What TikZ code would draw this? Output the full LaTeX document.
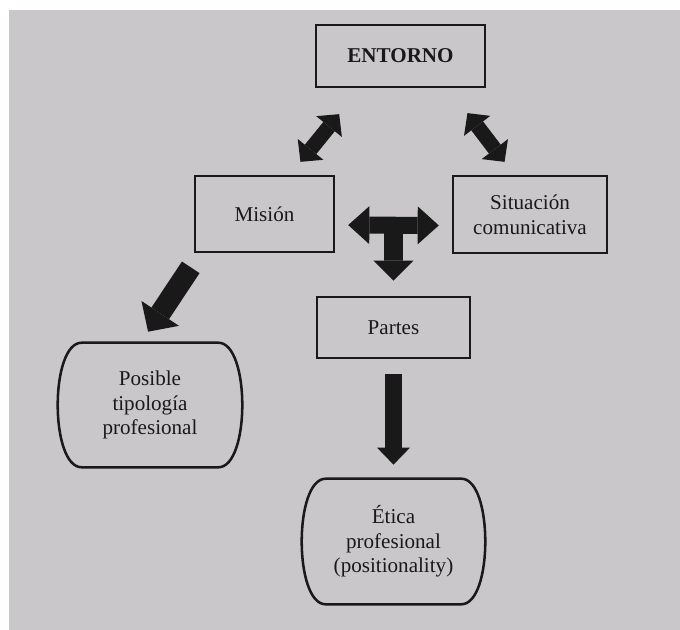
\documentclass[tikz,border=0pt]{standalone}
\usepackage{fontspec}
\setmainfont{Liberation Serif}
\usetikzlibrary{calc}
\usetikzlibrary{arrows.meta}
\definecolor{papel}{RGB}{201,199,202}
\definecolor{tinta}{RGB}{25,25,25}

\newcommand{\contorno}[1]{%
  \draw[borde] ($(#1.north west)+(24,0)$) -- ($(#1.north east)+(-24,0)$)
    .. controls ($(#1.north east)+(8,0)$) and ($(#1.south east)+(8,0)$) .. ($(#1.south east)+(-24,0)$)
    -- ($(#1.south west)+(24,0)$)
    .. controls ($(#1.south west)+(-8,0)$) and ($(#1.north west)+(-8,0)$) .. cycle;}

\begin{document}
\begin{tikzpicture}[  x=0.025cm,  y=-0.025cm,  caja/.style={    draw=tinta,    line width=1.8pt,    rectangle,    align=center,    text=tinta,    font=\fontsize{15}{17.5}\selectfont  },  ovalo/.style={    rectangle,    align=center,    text=tinta,    font=\fontsize{15}{17.5}\selectfont  },  borde/.style={    draw=tinta,    line width=1.8pt,    line join=round  },  flecha/.style={    draw=tinta,    line width=#1  },  punta/.style 2 args={    -{Triangle[width=#1,length=#2,line width=0pt]}  },  dpunta/.style 2 args={    {Triangle[width=#1,length=#2,line width=0pt]}-{Triangle[width=#1,length=#2,line width=0pt]}  }]
		% Paper
		\useasboundingbox (0,0) rectangle (680,630);
		\fill[white] (0,0) rectangle (680,630);
		\fill[papel] (9,10) rectangle (680,630);
		% Nodes
		\node[caja, minimum width=4.225cm, minimum height=1.55cm] (entorno) at (400.5,56) {\textbf{ENTORNO}};
		\node[caja, minimum width=3.475cm, minimum height=1.9cm] (mision) at (264.5,214) {Misión};
		\node[caja, minimum width=3.85cm, minimum height=1.925cm] (situacion) at (530,214.5) {Situación\\comunicativa};
		\node[caja, minimum width=3.825cm, minimum height=1.525cm] (partes) at (393.5,327.5) {Partes};
		\node[ovalo, minimum width=4.6cm, minimum height=3.1cm] (posible) at (150,405) {Posible\\tipología\\profesional};
		\node[ovalo, minimum width=4.575cm, minimum height=3.125cm] (etica) at (393.5,541.5) {Ética\\profesional\\(positionality)};
		\contorno{posible}
		\contorno{etica}
		% Arrows
		\draw[flecha=10.5pt, dpunta={23.5pt}{11.4pt}, shorten <=11.8pt, shorten >=23.7pt] ($(mision.north west)!0.68!(mision.north east)$) -- ($(entorno.south west)!0.265!(entorno.south east)$);
		\draw[flecha=10.5pt, dpunta={23.5pt}{11.4pt}, shorten <=22.2pt, shorten >=11.5pt] ($(entorno.south west)!0.78!(entorno.south east)$) -- ($(situacion.north west)!0.4!(situacion.north east)$);
		\coordinate (cruce) at ($(mision.east)!0.5!(situacion.west)+(0,11)$);
		\draw[flecha=12.1pt, dpunta={27pt}{15pt}, shorten <=9.2pt, shorten >=9.2pt] ($(mision.east)+(0,11)$) -- ($(situacion.west)+(0,11)$);
		\draw[flecha=13.5pt, punta={28.5pt}{14.2pt}, shorten >=10.7pt] (cruce) -- (partes);
		\draw[flecha=15pt, punta={32pt}{15.6pt}, shorten <=12pt, shorten >=9.4pt] ($(mision.south west)!0.045!(mision.south east)$) -- ($(posible.north west)!0.45!(posible.north east)$);
		\draw[flecha=12.1pt, punta={23.5pt}{12.1pt}, shorten <=10.7pt, shorten >=10pt] (partes) -- (etica);
	\end{tikzpicture}
\end{document}
